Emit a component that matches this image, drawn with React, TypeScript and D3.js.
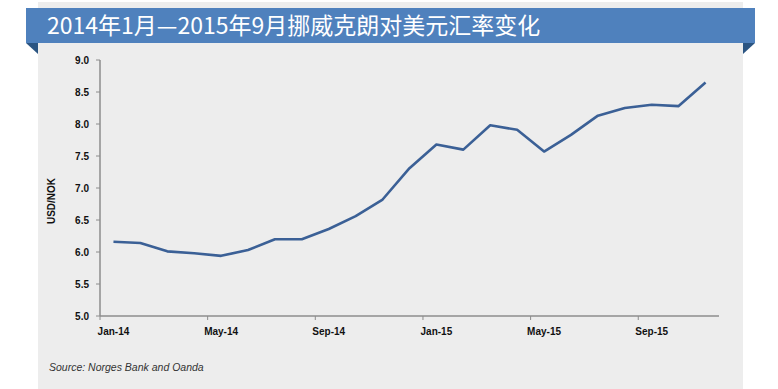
import React from 'react';
import * as d3 from 'd3';

const months = [
  'Jan-14', 'Feb-14', 'Mar-14', 'Apr-14', 'May-14', 'Jun-14', 'Jul-14', 'Aug-14',
  'Sep-14', 'Oct-14', 'Nov-14', 'Dec-14', 'Jan-15', 'Feb-15', 'Mar-15', 'Apr-15',
  'May-15', 'Jun-15', 'Jul-15', 'Aug-15', 'Sep-15', 'Oct-15', 'Nov-15',
];
const usdNok = [
  6.16, 6.14, 6.01, 5.98, 5.94, 6.03, 6.2, 6.2, 6.36, 6.56, 6.82, 7.31,
  7.68, 7.6, 7.98, 7.91, 7.57, 7.83, 8.13, 8.25, 8.3, 8.28, 8.65,
];
const yTicks = [5.0, 5.5, 6.0, 6.5, 7.0, 7.5, 8.0, 8.5, 9.0];
const labelMonths = ['Jan-14', 'May-14', 'Sep-14', 'Jan-15', 'May-15', 'Sep-15'];

const title = '2014年1月—2015年9月挪威克朗对美元汇率变化';
const source = 'Source: Norges Bank and Oanda';

export default class App extends React.Component {
  sizing = {
    width: 778,
    height: 389,
    left: 100,
    right: 719,
    top: 60,
    bottom: 316,
  };

  render(): React.ReactNode {
    const {width, height, left, right, top, bottom} = this.sizing;

    const xScale = d3.scaleBand().domain(months).range([left, right]).padding(0);
    const yScale = d3.scaleLinear().domain([5, 9]).range([bottom, top]);
    const bw = xScale.bandwidth();

    const line = d3.line<number>()
      .x((_, i) => (xScale(months[i]) as number) + bw / 2)
      .y(d => yScale(d));

    const axisColor = '#8c8c8c';
    const tickFont = 'Liberation Sans, Arial, sans-serif';

    return (
      <svg width={width} height={height} style={{position: 'absolute', left: 0, top: 0}}>
        <rect x={0} y={0} width={width} height={height} fill="#ffffff" />
        <rect x={38} y={2} width={705} height={height} fill="#ededed" />

        {/* title ribbon */}
        <path d="M26,43 L38,43 L38,54 Z" fill="#2b5582" />
        <path d="M743,43 L755,43 L743,54 Z" fill="#2b5582" />
        <rect x={26} y={8} width={729} height={35} fill="#4f81bd" />
        <text x={47} y={34} fill="#ffffff" fontSize={23}
          fontFamily="Noto Sans CJK SC, sans-serif">{title}</text>

        {/* y axis */}
        <line x1={left} x2={left} y1={top} y2={bottom} stroke={axisColor} strokeWidth={1.5} />
        {yTicks.map(t => (
          <g key={t}>
            <line x1={left - 4} x2={left} y1={yScale(t)} y2={yScale(t)} stroke={axisColor} strokeWidth={1} />
            <text x={89} y={yScale(t) + 3.5} textAnchor="end" fontSize={10} fontWeight="bold"
              fontFamily={tickFont} fill="#111">{t.toFixed(1)}</text>
          </g>
        ))}
        <text transform={`translate(55,201) rotate(-90)`} textAnchor="middle" fontSize={10}
          fontWeight="bold" fontFamily={tickFont} fill="#111">USD/NOK</text>

        {/* x axis */}
        <line x1={left} x2={right} y1={bottom} y2={bottom} stroke={axisColor} strokeWidth={1.5} />
        {labelMonths.map(m => (
          <g key={m}>
            <line x1={xScale(m) as number} x2={xScale(m) as number} y1={bottom} y2={bottom + 4}
              stroke={axisColor} strokeWidth={1} />
            <text x={(xScale(m) as number) + bw / 2} y={335} textAnchor="middle" fontSize={10}
              fontWeight="bold" fontFamily={tickFont} fill="#111">{m}</text>
          </g>
        ))}

        <path d={line(usdNok) || ''} fill="none" stroke="#3b6096" strokeWidth={2.6}
          strokeLinejoin="round" />

        <text x={49} y={371} fontSize={10.5} fontStyle="italic" fontFamily={tickFont}
          fill="#333">{source}</text>
      </svg>
    );
  }
}
